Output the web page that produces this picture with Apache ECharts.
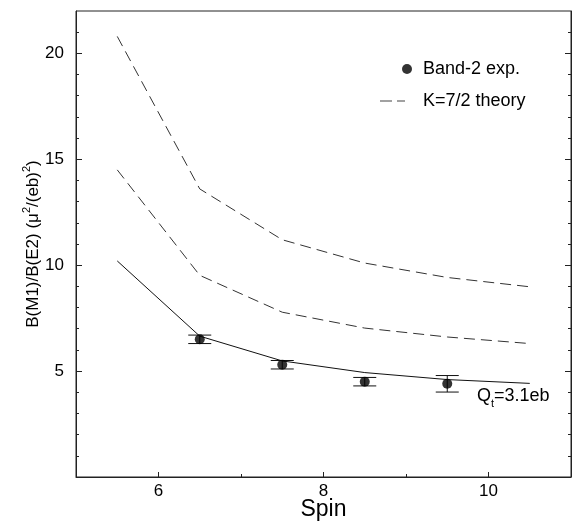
<!DOCTYPE html>
<html>
<head>
<meta charset="utf-8">
<script src="https://cdn.jsdelivr.net/npm/echarts@6/dist/echarts.min.js"></script>
<style>
html,body{margin:0;padding:0;background:#fff;}
#chart{width:574px;height:529px;}
</style>
</head>
<body>
<div id="chart"></div>
<script>
// ---- data ----
const spinExp = [6.5, 7.5, 8.5, 9.5];
const bandExp = [6.5, 5.3, 4.5, 4.4];
const bandErr = [0.2, 0.2, 0.2, 0.39];
const spinTheory = [5.5, 6.5, 7.5, 8.5, 9.5, 10.5];
const theoryQt31 = [10.2, 6.65, 5.48, 4.93, 4.6, 4.42];
const theoryMid = [14.5, 9.52, 7.78, 7.03, 6.61, 6.3];
const theoryUpper = [20.8, 13.6, 11.2, 10.1, 9.42, 8.98];
const xLabelTicks = [6, 8, 10];
const xMinorTicks = [7, 9];
const yLabelTicks = [5, 10, 15, 20];
const yMajorTicks = [0, 5, 10, 15, 20];
const yMinorTicks = [1,2,3,4,6,7,8,9,11,12,13,14,16,17,18,19,21];

const FONT = "'Liberation Sans', Arial, Helvetica, sans-serif";
const chart = echarts.init(document.getElementById('chart'));

const pair = (xs, ys) => xs.map((x, i) => [x, ys[i]]);
const errData = spinExp.map((x, i) => [x, bandExp[i], bandErr[i]]);

const baseX = {type: 'value', min: 5, max: 11, interval: 1, position: 'bottom', splitLine: {show: false}};
const baseY = {type: 'value', min: 0, max: 22, interval: 1, splitLine: {show: false}};

const option = {
  animation: false,
  backgroundColor: '#fff',
  textStyle: {fontFamily: FONT},
  grid: {left: 76, right: 3, top: 11, bottom: 52, show: true, borderColor: '#222', borderWidth: 1, backgroundColor: 'transparent'},
  xAxis: [
    Object.assign({}, baseX, {
      axisLine: {show: true, lineStyle: {color: '#222', width: 1}},
      axisTick: {show: true, inside: true, length: 5, customValues: xLabelTicks, lineStyle: {color: '#222'}},
      axisLabel: {show: true, customValues: xLabelTicks, fontSize: 17, color: '#000', margin: 6, fontFamily: FONT},
      name: 'Spin', nameLocation: 'middle', nameGap: 21, nameMoveOverlap: false,
      nameTextStyle: {fontSize: 23, color: '#000', fontFamily: FONT}
    }),
    Object.assign({}, baseX, {
      axisLine: {show: false},
      axisTick: {show: true, inside: true, length: 3, customValues: xMinorTicks, lineStyle: {color: '#222'}},
      axisLabel: {show: false}
    })
  ],
  yAxis: [
    Object.assign({}, baseY, {
      position: 'left',
      axisLine: {show: true, lineStyle: {color: '#222', width: 1}},
      axisTick: {show: true, inside: true, length: 6, customValues: yMajorTicks, lineStyle: {color: '#222'}},
      axisLabel: {show: true, customValues: yLabelTicks, fontSize: 17, color: '#000', margin: 12, fontFamily: FONT},
      name: '{a|B(M1)/B(E2) (μ}{s|2}{a|/(eb)}{s|2}{a|)}',
      nameLocation: 'middle', nameGap: 31, nameRotate: 90, nameMoveOverlap: false,
      nameTextStyle: {
        color: '#000', fontFamily: FONT,
        rich: {
          a: {fontSize: 17, lineHeight: 24, color: '#000', fontFamily: FONT},
          s: {fontSize: 11, lineHeight: 11, verticalAlign: 'top', color: '#000', fontFamily: FONT}
        }
      }
    }),
    Object.assign({}, baseY, {
      position: 'left',
      axisLine: {show: false},
      axisTick: {show: true, inside: true, length: 3, customValues: yMinorTicks, lineStyle: {color: '#222'}},
      axisLabel: {show: false}
    }),
    Object.assign({}, baseY, {
      position: 'right',
      axisLine: {show: true, lineStyle: {color: '#222', width: 1}},
      axisTick: {show: true, inside: true, length: 6, customValues: yMajorTicks, lineStyle: {color: '#222'}},
      axisLabel: {show: false}
    }),
    Object.assign({}, baseY, {
      position: 'right',
      axisLine: {show: false},
      axisTick: {show: true, inside: true, length: 3, customValues: yMinorTicks, lineStyle: {color: '#222'}},
      axisLabel: {show: false}
    })
  ],
  legend: [
    {
      data: [{name: 'Band-2 exp.', icon: 'circle'}],
      left: 402, top: 60, padding: 0, itemWidth: 10, itemHeight: 10, selectedMode: false,
      textStyle: {fontSize: 18, color: '#000', fontFamily: FONT, padding: [0, 0, 0, 6]}
    },
    {
      data: [{name: 'K=7/2 theory', icon: 'path://M0,0h12v1h-12zM17,0h8v1h-8z'}],
      left: 380, top: 92, padding: 0, itemWidth: 25, itemHeight: 1, selectedMode: false,
      itemStyle: {color: '#444', borderWidth: 0},
      textStyle: {fontSize: 18, color: '#000', fontFamily: FONT, padding: [0, 0, 0, 13]}
    }
  ],
  series: [
    {
      name: 'K=7/2 theory', type: 'line', data: pair(spinTheory, theoryUpper),
      symbol: 'none', lineStyle: {color: '#333', width: 1, type: [11, 6]}, itemStyle: {color: '#333'}
    },
    {
      name: 'K=7/2 theory', type: 'line', data: pair(spinTheory, theoryMid),
      symbol: 'none', lineStyle: {color: '#333', width: 1, type: [11, 6]}, itemStyle: {color: '#333'}
    },
    {
      name: 'Qt=3.1eb', type: 'line', data: pair(spinTheory, theoryQt31),
      symbol: 'none', lineStyle: {color: '#111', width: 1, type: 'solid'}, itemStyle: {color: '#111'},
      markPoint: {
        symbol: 'circle', symbolSize: 0, silent: true,
        data: [{coord: [10.3, 3.8]}],
        label: {
          show: true, position: 'inside',
          formatter: '{a|Q}{b|t}{a|=3.1eb}',
          rich: {
            a: {fontSize: 18, lineHeight: 20, color: '#000', fontFamily: FONT},
            b: {fontSize: 11, lineHeight: 11, verticalAlign: 'bottom', color: '#000', fontFamily: FONT, padding: [0, 0, -3, 0]}
          }
        }
      }
    },
    {
      name: 'errbars', type: 'custom', data: errData, z: 3,
      renderItem: function (params, api) {
        const x = api.value(0), y = api.value(1), e = api.value(2);
        const top = api.coord([x, y + e]);
        const bot = api.coord([x, y - e]);
        const hw = 11.5;
        const st = {stroke: '#111', lineWidth: 1};
        return {
          type: 'group',
          children: [
            {type: 'line', shape: {x1: top[0], y1: top[1], x2: bot[0], y2: bot[1]}, style: st},
            {type: 'line', shape: {x1: top[0] - hw, y1: top[1], x2: top[0] + hw, y2: top[1]}, style: st},
            {type: 'line', shape: {x1: bot[0] - hw, y1: bot[1], x2: bot[0] + hw, y2: bot[1]}, style: st}
          ]
        };
      }
    },
    {
      name: 'Band-2 exp.', type: 'scatter', data: pair(spinExp, bandExp),
      symbol: 'circle', symbolSize: 10, itemStyle: {color: '#000'}, z: 4
    }
  ]
};
chart.setOption(option);
</script>
</body>
</html>
